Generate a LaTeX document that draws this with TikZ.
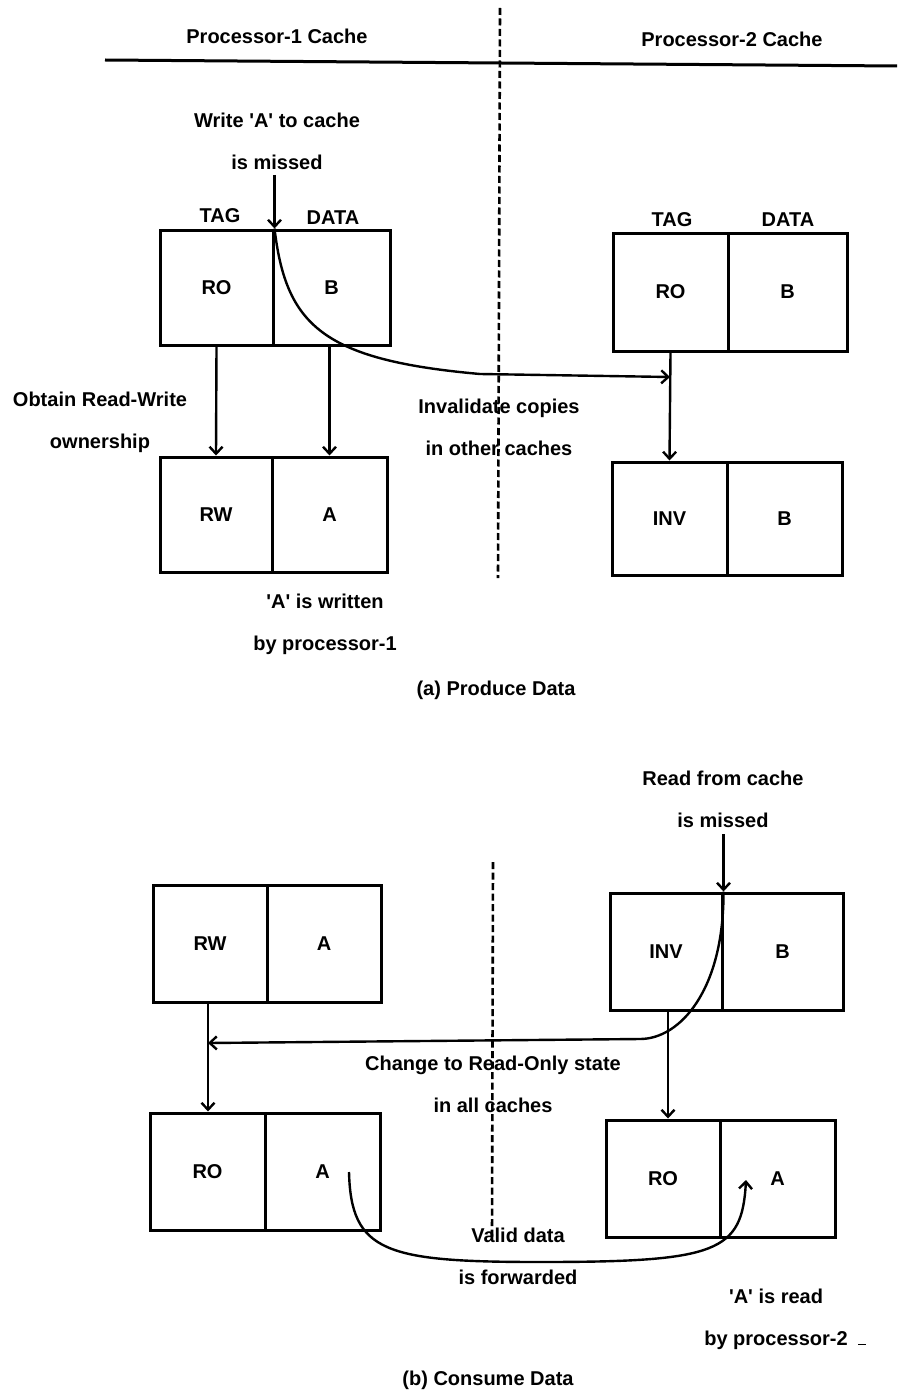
\documentclass[tikz,border=0pt]{standalone}
\usepackage{fontspec}
\setmainfont{Liberation Sans}
\usetikzlibrary{arrows.meta}
\newcommand\dfont{\fontsize{20}{42}\selectfont\bfseries}
\begin{document}
\begin{tikzpicture}[x=1pt,y=-1pt,
  cell/.style={draw, line width=3pt, inner sep=0pt, font=\dfont},
  lbl/.style={font=\dfont, inner sep=0pt, align=center},
  arr/.style={line width=2.4pt, -{Straight Barb[length=7pt,width=13pt,line width=2.4pt]}},
  sepline/.style={line width=2.6pt, dash pattern=on 7pt off 3.5pt}]
\useasboundingbox (0,0) rectangle (897,1391);
\fill[white] (0,0) rectangle (897,1391);

% header
\node[lbl] (h1) at (277,36) {Processor-1 Cache};
\node[lbl] (h2) at (732,39) {Processor-2 Cache};
\coordinate (hl) at (105,60);
\coordinate (hr) at (897,66);
\draw[line width=3pt] (hl) -- (hr);
\coordinate (d1a) at (500,8);
\coordinate (d1b) at (498,578);
\draw[sepline] (d1a) -- (d1b);

% (a) boxes
\node[cell, minimum width=113pt, minimum height=115pt] (b1t) at (216.5,287.5) {RO};
\node[cell, minimum width=117pt, minimum height=115pt] (b1d) at (331.5,287.5) {B};
\node[lbl] (tag1) at (220,216) {TAG};
\node[lbl] (dat1) at (333,218) {DATA};

\node[cell, minimum width=112pt, minimum height=115pt] (b2t) at (216,514.5) {RW};
\node[cell, minimum width=115pt, minimum height=115pt] (b2d) at (329.5,514.5) {A};

\node[cell, minimum width=115pt, minimum height=118pt] (b3t) at (670.5,292) {RO};
\node[cell, minimum width=119pt, minimum height=118pt] (b3d) at (787.5,292) {B};
\node[lbl] (tag3) at (672,220) {TAG};
\node[lbl] (dat3) at (788,220) {DATA};

\node[cell, minimum width=115pt, minimum height=113pt] (b4t) at (669.5,518.5) {INV};
\node[cell, minimum width=115pt, minimum height=113pt] (b4d) at (784.5,518.5) {B};

% (a) labels
\node[lbl] (wr) at (277,141) {Write \textquotesingle A\textquotesingle{} to cache\\is missed};
\node[lbl] (own) at (100,422.5) {Obtain Read-Write\\ownership};
\node[lbl] (inv) at (499,427.5) {Invalidate copies\\in other caches};
\node[lbl] (wrt) at (325,624.5) {\textquotesingle A\textquotesingle{} is written\\by processor-1};
\node[lbl] (capa) at (496,690) {(a) Produce Data};

% (a) connectors
\coordinate (w1) at (274,175);
\draw[arr] (w1 -| b1t.north east) -- (b1t.north east);
\draw[arr] (b1t.south) -- (b2t.north);
\draw[arr] (b1d.south -| b2d.north) -- (b2d.north);
\draw[arr] (b3t.south) -- (b4t.north);
\coordinate (m1) at (670,377);
\draw[arr] (b1t.north east) .. controls (286,325) and (322,360) .. (480,374) -- (m1);

% bottom separator
\coordinate (d2a) at (493,862);
\coordinate (d2b) at (492,1238);
\draw[sepline] (d2a) -- (d2b);

% (b) boxes
\node[cell, minimum width=114pt, minimum height=117pt] (b5t) at (210,943.5) {RW};
\node[cell, minimum width=114pt, minimum height=117pt] (b5d) at (324,943.5) {A};

\node[cell, minimum width=112pt, minimum height=117pt] (b6t) at (666,951.5) {INV};
\node[cell, minimum width=121pt, minimum height=117pt] (b6d) at (782.5,951.5) {B};

\node[cell, minimum width=115pt, minimum height=117pt] (b7t) at (207.5,1171.5) {RO};
\node[cell, minimum width=115pt, minimum height=117pt] (b7d) at (322.5,1171.5) {A};

\node[cell, minimum width=114pt, minimum height=117pt] (b8t) at (663,1178.5) {RO};
\node[cell, minimum width=115pt, minimum height=117pt] (b8d) at (777.5,1178.5) {A};

% (b) labels
\node[lbl] (rd) at (723,799) {Read from cache\\is missed};
\node[lbl] (chg) at (493,1084.5) {Change to Read-Only state\\in all caches};
\node[lbl] (vd) at (518,1256.5) {Valid data\\is forwarded};
\node[lbl] (ard) at (776,1319) {\textquotesingle A\textquotesingle{} is read\\by processor-2};
\node[lbl] (capb) at (488,1380) {(b) Consume Data};
\coordinate (sd1) at (858,1344);
\coordinate (sd2) at (866,1344);
\draw[line width=1pt] (sd1) -- (sd2);

% (b) connectors
\coordinate (r1) at (722,834);
\draw[arr] (r1 -| b6t.north east) -- (b6t.north east);
\coordinate (m2) at (208,1043);
\draw[arr] (b6t.north east) .. controls (724,990) and (680,1039) .. (640,1039) -- (m2);
\draw[arr] (b5t.south -| m2) -- (b7t.north -| m2);
\draw[arr] (b6t.south -| 668,0) -- (b8t.north -| 668,0);
\coordinate (s3) at (349,1172);
\coordinate (e3) at (746,1180);
\draw[arr] (s3) .. controls (351,1252) and (385,1262) .. (540,1262) .. controls (718,1262) and (742,1252) .. (e3);
\end{tikzpicture}
\end{document}
